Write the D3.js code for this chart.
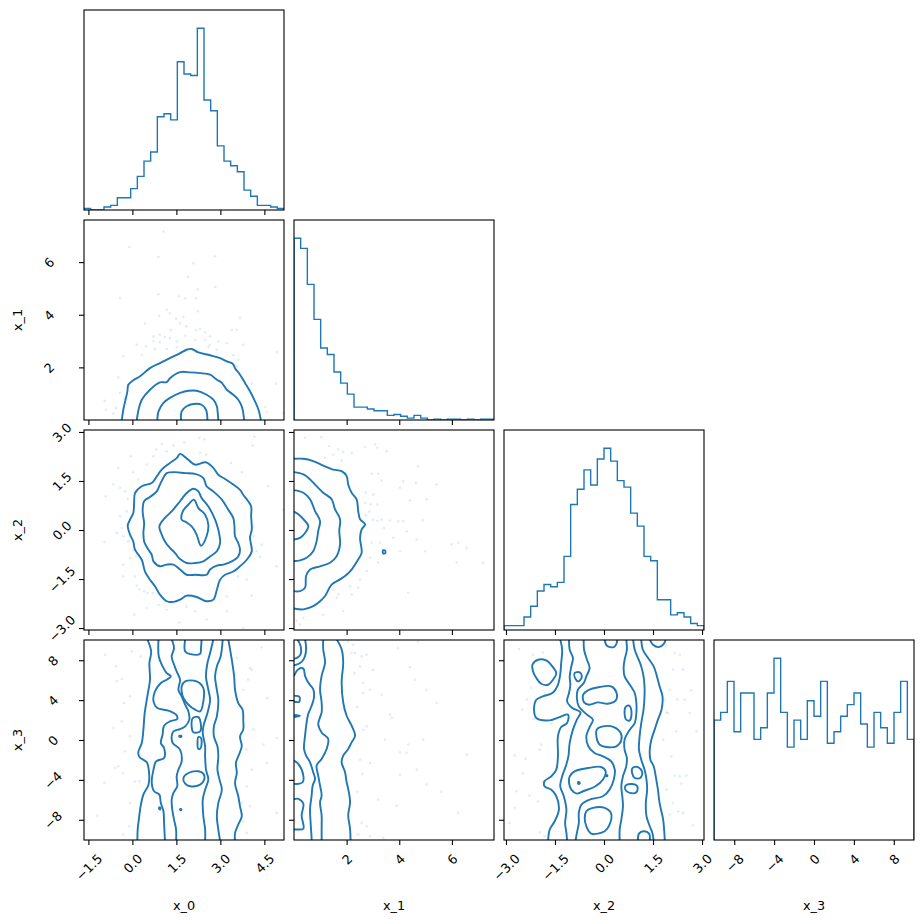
<!DOCTYPE html>
<html><head><meta charset="utf-8">
<script src="https://cdn.jsdelivr.net/npm/d3@7"></script>
<style>body{margin:0;background:#fff}svg{display:block}text{font-family:"DejaVu Sans",sans-serif}</style>
</head><body><svg id="c" width="924" height="924"></svg>
<script>
const names = ["x_0","x_1","x_2","x_3"];
const ranges = [[-1.65,5.17],[0,7.6],[-3.06,3.06],[-10.03,10.03]];
const tickVals = [[-1.5,0,1.5,3,4.5],[2,4,6],[-3,-1.5,0,1.5,3],[-8,-4,0,4,8]];
const tickLabels = [["−1.5","0.0","1.5","3.0","4.5"],["2","4","6"],["−3.0","−1.5","0.0","1.5","3.0"],["−8","−4","0","4","8"]];

const hist_x0 = [1,0,0,2,3,8,8,14,22,32,38,61,63,59,97,89,88,119,72,65,42,32,29,25,13,9,3,3,2,1];
const hist_x1 = [197,186,147,109,78,71,52,40,28,14,14,12,10,10,5,6,4,2,5,2,0,1,0,1,1,0,1,0,1,1];
const hist_x2 = [2,2,2,6,11,18,21,20,22,34,58,65,74,67,79,84,78,69,66,54,48,34,32,14,14,7,8,6,3,2];
const hist_x3 = [31,33,41,28,38,38,26,29,38,47,33,24,31,26,36,32,41,25,28,32,35,38,30,24,33,29,25,33,41,26];

// ---- x_0 vs x_1 ----
const lines_x0_x1 = [
 [[-0.36,0],[-0.31,0.39],[-0.17,1.09],[-0.14,1.34],[0.03,1.51],[0.26,1.66],[0.60,1.97],[0.94,2.16],[1.28,2.35],[1.63,2.54],[1.85,2.67],[2.02,2.70],[2.25,2.57],[2.65,2.46],[2.99,2.35],[3.22,2.23],[3.42,2.14],[3.50,1.97],[3.67,1.72],[3.84,1.41],[4.01,1.09],[4.18,0.71],[4.30,0.39],[4.38,0]],
 [[0.15,0],[0.21,0.39],[0.32,0.77],[0.60,1.15],[0.94,1.43],[1.17,1.44],[1.28,1.59],[1.63,1.82],[1.97,1.81],[2.31,1.78],[2.65,1.72],[2.88,1.53],[3.05,1.41],[3.22,1.15],[3.44,0.96],[3.61,0.77],[3.73,0.52],[3.78,0.27],[3.81,0]],
 [[0.85,0],[0.89,0.33],[1.06,0.65],[1.28,0.84],[1.63,1.03],[1.91,1.11],[2.19,1.11],[2.53,0.96],[2.76,0.77],[2.88,0.52],[2.91,0.27],[2.93,0]],
 [[1.66,0],[1.68,0.33],[1.85,0.52],[2.08,0.61],[2.36,0.58],[2.51,0.39],[2.56,0]]
];
const loops_x0_x1 = [];
const points_x0_x1 = [[1.06,7.16],[-0.10,6.57],[0.89,6.19],[2.82,6.22],[2.08,5.96],[1.90,5.43],[0.89,4.78],[2.23,4.97],[2.83,5.05],[-0.42,4.63],[1.59,4.70],[1.80,4.63],[2.17,4.62],[1.17,4.19],[1.28,4.06],[0.91,3.96],[1.74,3.91],[1.49,3.85],[2.23,4.13],[1.63,3.68],[1.85,3.56],[1.31,3.43],[0.43,3.66],[0.72,3.18],[0.94,3.24],[1.11,3.15],[0.94,2.95],[1.28,3.11],[1.51,2.99],[1.80,3.20],[2.17,3.41],[2.31,3.46],[2.48,3.33],[2.65,3.18],[2.14,3.05],[2.48,3.05],[2.63,2.86],[2.93,2.99],[3.22,2.92],[3.39,3.43],[3.56,3.43],[3.67,3.87],[3.78,2.86],[0.15,2.86],[0.32,2.47],[-0.31,2.42],[0.77,2.70],[1.17,2.70],[1.51,2.77],[2.59,2.77],[2.88,2.67],[3.44,2.46],[3.61,2.29],[3.56,2.04],[4.92,2.58],[4.90,1.38],[4.07,1.38],[-0.48,1.62],[-0.95,0.73],[-0.42,1.03],[-0.27,0.81],[-0.56,0.46],[-0.90,0.39],[-0.65,0.24],[4.58,0.30],[5.15,0.27],[4.52,0.49],[0.72,2.99],[0.47,2.80]];

// ---- x_0 vs x_2 ----
const lines_x0_x2 = [];
const loops_x0_x2 = [
 [[1.625,2.33],[1.80,2.23],[1.97,2.10],[2.14,2.00],[2.51,2.07],[2.76,1.90],[2.93,1.69],[3.16,1.56],[3.44,1.39],[3.67,1.23],[3.78,1.08],[3.95,0.88],[4.05,0.72],[4.05,0.42],[4.07,0.01],[4.01,-0.24],[4.07,-0.65],[3.90,-0.91],[3.67,-1.11],[3.44,-1.27],[3.16,-1.37],[2.99,-1.52],[2.88,-1.83],[2.76,-2.13],[2.53,-2.18],[2.19,-2.05],[1.85,-2.01],[1.625,-2.13],[1.40,-2.20],[1.17,-2.18],[0.94,-1.98],[0.77,-1.72],[0.60,-1.52],[0.43,-1.27],[0.32,-0.91],[0.09,-0.60],[0.03,-0.35],[-0.08,-0.14],[-0.16,0.13],[-0.08,0.32],[0.03,0.52],[0.06,0.83],[0.09,1.13],[0.32,1.34],[0.66,1.44],[0.83,1.64],[1.00,1.85],[1.28,2.05],[1.51,2.20]],
 [[1.17,1.74],[1.45,1.77],[1.80,1.74],[2.14,1.72],[2.42,1.59],[2.53,1.34],[2.76,1.18],[3.05,0.93],[3.27,0.62],[3.44,0.37],[3.48,0.11],[3.50,-0.19],[3.61,-0.40],[3.67,-0.60],[3.61,-0.81],[3.39,-0.96],[3.10,-1.06],[2.88,-1.09],[2.65,-1.21],[2.53,-1.37],[2.14,-1.37],[1.85,-1.37],[1.625,-1.21],[1.40,-1.06],[1.17,-1.06],[0.94,-1.11],[0.72,-0.96],[0.66,-0.76],[0.51,-0.55],[0.40,-0.35],[0.375,-0.09],[0.40,0.21],[0.35,0.57],[0.40,0.88],[0.60,1.01],[0.83,1.18],[0.94,1.39],[1.08,1.64]],
 [[2.08,1.26],[2.25,1.18],[2.36,0.98],[2.59,0.72],[2.82,0.32],[2.93,0.01],[2.99,-0.40],[2.88,-0.65],[2.65,-0.81],[2.42,-0.96],[2.14,-1.01],[1.85,-1.01],[1.625,-0.89],[1.45,-0.70],[1.28,-0.55],[1.11,-0.35],[1.00,-0.14],[0.92,0.11],[1.11,0.37],[1.34,0.57],[1.625,0.88],[1.85,1.13]],
 [[2.10,0.93],[2.25,0.67],[2.48,0.47],[2.59,0.16],[2.53,-0.19],[2.34,-0.48],[2.19,-0.14],[2.02,0.11],[1.85,0.23],[1.68,0.32],[1.72,0.57],[1.91,0.78]]
];
const points_x0_x2 = [[2.28,2.82],[2.45,2.77],[1.77,2.68],[4.16,2.85],[4.10,2.58],[1.00,2.63],[1.40,2.58],[0.81,2.46],[1.17,2.41],[2.31,2.36],[2.51,2.31],[3.36,2.05],[3.73,1.77],[-0.48,1.90],[0.03,1.77],[0.20,1.54],[-0.65,1.39],[-0.42,1.29],[-0.25,1.18],[-0.91,1.03],[-0.16,0.95],[-0.19,0.57],[-0.42,0.42],[-0.36,0.06],[-0.53,-0.09],[-0.31,-0.19],[-0.95,-0.37],[-0.14,-0.35],[0.03,-0.62],[0.13,-0.81],[-0.31,-1.06],[-0.08,-0.86],[-0.31,-1.42],[0.09,-1.42],[0.15,-1.70],[0.24,-1.81],[0.40,-1.88],[0.52,-1.93],[0.69,-1.93],[0.89,-2.29],[0.49,-2.39],[0.07,-2.59],[1.17,-2.44],[1.60,-2.83],[1.85,-2.34],[2.14,-2.49],[2.53,-2.74],[3.22,-2.49],[4.07,-2.01],[3.78,-3.0],[4.35,-0.83],[4.24,-0.65],[4.41,-0.45],[4.13,-0.19],[4.13,0.11],[4.92,-1.11],[4.64,1.34],[5.15,0.62],[3.61,-1.42],[3.56,-1.27],[3.22,-2.03],[3.90,-1.52],[0.72,2.26],[0.49,2.00],[-0.06,2.26]];

// ---- x_1 vs x_2 ----
const lines_x1_x2 = [
 [[0,2.18],[0.355,2.18],[0.73,2.11],[1.11,1.97],[1.49,1.85],[1.81,1.80],[2.00,1.65],[2.06,1.39],[2.19,1.14],[2.38,0.94],[2.44,0.58],[2.51,0.33],[2.70,0.17],[2.57,0.02],[2.51,-0.24],[2.57,-0.70],[2.44,-0.90],[2.19,-1.21],[1.94,-1.41],[1.75,-1.51],[1.43,-1.67],[1.18,-2.02],[0.99,-2.18],[0.73,-2.33],[0.355,-2.43],[0,-2.40]],
 [[0,1.77],[0.355,1.70],[0.61,1.55],[0.86,1.34],[1.11,1.14],[1.43,0.94],[1.56,0.63],[1.75,0.33],[1.72,-0.03],[1.75,-0.44],[1.62,-0.80],[1.37,-1.00],[0.99,-1.11],[0.61,-1.21],[0.46,-1.41],[0.42,-1.77],[0.23,-1.87],[0,-1.87]],
 [[0,1.22],[0.355,1.14],[0.61,0.94],[0.80,0.58],[0.99,0.27],[0.92,-0.03],[0.86,-0.34],[0.73,-0.65],[0.48,-0.85],[0.23,-0.93],[0,-0.95]],
 [[0,0.56],[0.165,0.48],[0.355,0.33],[0.545,0.12],[0.42,-0.09],[0.23,-0.24],[0,-0.29]]
];
const loops_x1_x2 = [[[3.38,-0.62],[3.46,-0.63],[3.47,-0.71],[3.39,-0.72]]];
const points_x1_x2 = [[0.42,2.82],[1.05,2.84],[1.34,2.57],[1.68,2.47],[1.87,2.39],[2.19,2.36],[2.70,2.54],[3.08,2.62],[3.17,2.52],[3.52,2.41],[1.18,2.21],[1.49,2.31],[1.81,2.13],[2.95,1.72],[3.20,1.72],[3.33,1.51],[4.03,1.29],[4.15,1.49],[4.63,1.44],[4.72,1.95],[2.73,1.14],[3.01,1.09],[2.70,0.83],[2.91,0.78],[3.17,0.78],[2.73,0.45],[2.86,0.56],[3.01,0.32],[3.17,0.27],[3.33,0.32],[3.65,0.29],[3.96,0.27],[4.15,0.27],[3.42,0.06],[3.77,-0.24],[4.28,-0.04],[4.66,-0.29],[2.95,-0.39],[3.27,-0.39],[4.03,-0.65],[2.89,-0.85],[3.20,-1.00],[2.76,-1.26],[2.51,-1.52],[2.13,-1.72],[1.68,-1.97],[1.62,-2.08],[1.49,-1.82],[2.19,-1.97],[2.44,-1.77],[4.34,-1.92],[1.87,-2.48],[1.11,-2.59],[0.355,-2.69],[0.10,-2.77],[0.23,-2.89],[5.42,1.39],[5.04,0.93],[5.99,-0.44],[6.24,-0.39],[6.56,-0.55],[6.18,-1.00],[7.19,-1.00],[4.98,-0.65],[4.40,0.90],[4.90,0.30]];

// ---- x_0 vs x_3 ----
const lines_x0_x3 = [
 [[0.51,10.1],[0.64,8.88],[0.58,7.72],[0.60,6.05],[0.51,4.38],[0.42,2.71],[0.375,1.04],[0.32,-0.30],[0.20,-1.24],[0.24,-1.70],[0.49,-2.24],[0.57,-3.31],[0.55,-4.48],[0.375,-5.48],[0.28,-6.65],[0.22,-7.98],[0.18,-8.98],[0.17,-10.1]],
 [[0.89,10.1],[0.90,8.38],[1.03,7.38],[1.17,6.71],[1.31,6.38],[1.17,6.05],[0.97,5.71],[0.77,4.88],[0.72,3.87],[0.85,3.21],[1.23,2.94],[1.49,2.54],[1.53,2.10],[1.28,1.87],[1.08,1.44],[1.03,0.53],[0.97,-0.30],[1.08,-0.80],[1.08,-1.80],[0.81,-2.14],[0.72,-2.97],[0.66,-4.31],[0.74,-5.14],[0.92,-5.48],[0.97,-6.31],[1.06,-7.15],[1.08,-8.32],[1.11,-10.1]],
 [[1.34,10.1],[1.42,9.22],[1.34,8.38],[1.40,7.72],[1.51,6.88],[1.625,6.05],[1.57,5.04],[1.68,4.38],[1.80,3.54],[1.91,2.87],[1.94,2.04],[1.80,1.37],[1.625,1.10],[1.40,0.87],[1.34,0.37],[1.375,-0.30],[1.625,-0.97],[1.68,-2.14],[1.57,-2.97],[1.51,-3.64],[1.53,-4.64],[1.40,-5.31],[1.34,-5.98],[1.36,-6.98],[1.42,-7.98],[1.49,-8.98],[1.49,-10.1]],
 [[2.76,10.1],[2.65,8.72],[2.56,7.72],[2.51,6.38],[2.59,5.04],[2.65,4.04],[2.56,2.71],[2.42,1.37],[2.40,0.70],[2.48,-0.63],[2.48,-1.64],[2.51,-2.97],[2.59,-3.97],[2.48,-4.98],[2.40,-5.98],[2.42,-7.65],[2.48,-8.98],[2.48,-10.1]],
 [[3.08,10.1],[3.01,8.38],[2.88,7.38],[2.82,6.38],[2.88,5.04],[2.93,4.04],[2.88,2.37],[2.78,1.37],[2.78,0.37],[2.90,-0.63],[2.93,-1.64],[2.90,-2.97],[2.97,-3.97],[3.05,-4.98],[2.93,-6.31],[2.88,-7.65],[2.93,-8.98],[2.99,-10.1]],
 [[3.27,10.1],[3.39,8.05],[3.47,6.38],[3.50,5.04],[3.61,3.71],[3.76,3.04],[3.78,2.04],[3.78,1.04],[3.67,0.37],[3.73,-0.63],[3.61,-1.64],[3.53,-2.30],[3.56,-3.31],[3.50,-4.31],[3.61,-5.64],[3.67,-6.65],[3.73,-7.65],[3.61,-8.48],[3.50,-9.32],[3.50,-10.1]],
 [[1.80,10.1],[1.80,8.88],[1.97,8.62],[2.31,8.65],[2.34,9.22],[2.36,10.1]]
];
const loops_x0_x3 = [
 [[1.68,5.38],[1.80,5.88],[2.19,5.88],[2.42,5.21],[2.42,3.87],[2.31,2.87],[2.14,3.04],[1.91,3.54],[1.74,4.21],[1.68,4.88]],
 [[2.06,2.20],[2.25,2.30],[2.33,1.70],[2.31,0.87],[2.08,0.77],[2.02,1.37]],
 [[1.60,0.42],[1.67,0.40],[1.67,0.32],[1.60,0.33]],
 [[2.25,0.30],[2.34,0.20],[2.33,-0.80],[2.25,-0.90],[2.22,-0.30]],
 [[1.74,-3.81],[1.91,-3.31],[2.25,-3.14],[2.42,-3.37],[2.45,-3.97],[2.31,-4.48],[1.97,-4.64],[1.80,-4.38]],
 [[0.92,-6.75],[0.96,-6.80],[0.94,-6.98],[0.91,-6.90]],
 [[1.63,-6.92],[1.67,-6.94],[1.66,-7.05],[1.63,-7.02]]
];
const points_x0_x3 = [[-0.93,8.55],[-0.36,6.11],[-0.53,5.88],[-0.02,8.88],[0.28,8.38],[-0.08,4.38],[-0.28,3.71],[-0.65,1.20],[-0.36,1.87],[-0.08,0.37],[-0.25,-1.14],[-0.48,-2.64],[-0.31,-3.31],[-0.95,-4.31],[0.09,-4.14],[0.24,-4.14],[-0.08,-6.31],[-0.10,-8.65],[-0.31,-9.49],[-0.59,-2.81],[3.56,8.22],[4.07,7.05],[4.01,7.21],[3.95,6.05],[3.78,5.04],[4.13,1.04],[4.92,0.20],[4.47,-0.47],[3.90,-0.97],[4.07,-2.97],[4.58,-2.30],[3.90,-4.64],[3.73,-6.31],[4.01,-6.65],[4.92,-7.31],[3.78,-8.15],[3.90,-9.32],[-0.55,7.40],[-1.20,-7.60],[4.40,9.30],[4.60,4.20]];

// ---- x_1 vs x_3 ----
const lines_x1_x3 = [
 [[0.42,10.1],[0.46,9.26],[0.42,8.43],[0.29,7.83],[0.10,7.56],[0,7.50]],
 [[0.13,10.1],[0.25,9.43],[0.25,8.60],[0.13,8.26],[0,8.16]],
 [[0,6.43],[0.165,7.10],[0.355,7.16],[0.42,6.43],[0.54,5.76],[0.73,5.10],[0.76,4.26],[0.67,3.43],[0.54,2.60],[0.48,1.76],[0.42,0.43],[0.38,-0.90],[0.46,-1.57],[0.61,-2.24],[0.73,-3.24],[0.80,-3.90],[0.71,-4.57],[0.67,-5.57],[0.61,-6.90],[0.63,-8.24],[0.67,-9.90],[0.67,-10.1]],
 [[0,4.45],[0.038,4.43],[0.20,4.36],[0.20,3.83],[0.038,3.83],[0,3.83]],
 [[0,2.52],[0.23,2.43],[0,2.30]],
 [[0,-2.07],[0.165,-2.40],[0.355,-3.57],[0.33,-4.24],[0.165,-4.40],[0,-4.40]],
 [[0,-5.95],[0.165,-5.90],[0.355,-6.40],[0.29,-7.57],[0.355,-8.90],[0.10,-8.97],[0,-8.97]],
 [[1.11,10.1],[1.11,9.10],[1.18,7.76],[1.05,6.43],[0.99,5.10],[1.05,3.76],[1.05,2.76],[0.92,1.60],[1.05,0.76],[1.30,0.10],[1.24,-0.90],[1.05,-1.90],[0.86,-2.57],[0.92,-3.57],[0.99,-4.57],[1.05,-5.57],[0.99,-6.24],[1.05,-7.57],[1.05,-8.90],[1.05,-10.1]],
 [[1.62,10.1],[1.81,9.10],[1.87,7.76],[1.81,5.76],[1.87,3.76],[2.00,2.43],[2.19,1.43],[2.32,0.43],[2.19,-0.24],[2.06,-0.90],[1.87,-1.57],[1.81,-2.24],[1.94,-3.24],[2.00,-4.24],[2.06,-4.90],[2.13,-6.24],[2.06,-7.57],[2.13,-8.90],[2.15,-10.1]]
];
const loops_x1_x3 = [];
const points_x1_x3 = [[2.06,9.88],[2.25,9.55],[4.72,9.88],[2.19,8.72],[2.32,8.72],[2.57,8.38],[2.76,8.55],[2.51,7.38],[3.96,9.22],[5.04,5.04],[4.60,6.04],[2.63,5.71],[2.89,5.04],[2.63,4.71],[3.33,4.54],[5.42,3.71],[3.65,2.54],[3.71,2.20],[2.25,1.20],[2.76,1.36],[2.63,1.03],[3.46,0.03],[4.91,0.03],[4.34,-0.47],[4.03,-1.24],[4.28,-1.30],[6.56,-1.47],[2.51,-1.97],[2.89,-2.30],[4.66,-2.98],[4.03,-3.48],[5.04,-4.48],[3.20,-5.98],[6.24,-7.31],[2.57,-8.32],[2.76,-8.66],[2.89,-9.66],[3.39,-9.82],[2.44,-9.49],[2.30,6.70],[3.00,7.00],[2.40,-5.20],[2.60,-3.40],[2.40,3.30],[3.90,-6.60],[5.60,-5.20],[4.40,7.30]];

// ---- x_2 vs x_3 ----
const lines_x2_x3 = [
 [[-1.34,10.1],[-1.28,9.05],[-1.31,7.72],[-1.34,6.55],[-1.41,5.54],[-1.58,4.71],[-1.87,4.38],[-2.07,4.04],[-2.14,3.04],[-2.07,2.20],[-1.66,1.97],[-1.36,2.30],[-1.10,2.54],[-1.13,1.70],[-1.31,1.30],[-1.41,0.37],[-1.41,-1.64],[-1.46,-2.97],[-1.61,-3.64],[-1.82,-4.14],[-1.82,-4.64],[-1.61,-4.98],[-1.46,-5.64],[-1.38,-6.98],[-1.51,-8.15],[-1.66,-8.98],[-1.71,-10.1]],
 [[-1.07,10.1],[-1.05,9.05],[-0.95,8.22],[-1.00,7.38],[-1.05,6.38],[-1.03,5.54],[-1.07,4.71],[-1.13,3.87],[-0.97,3.21],[-0.72,2.77],[-0.83,2.04],[-0.95,1.04],[-1.05,-0.30],[-1.09,-1.64],[-1.17,-2.64],[-1.28,-3.64],[-1.34,-4.64],[-1.23,-5.64],[-1.15,-6.98],[-1.19,-8.32],[-1.15,-9.32],[-1.13,-10.1]],
 [[-0.62,10.1],[-0.61,9.05],[-0.52,8.05],[-0.44,7.21],[-0.54,6.38],[-0.62,5.71],[-0.80,5.04],[-0.83,4.21],[-0.77,3.37],[-0.52,2.54],[-0.34,2.04],[-0.44,1.30],[-0.54,0.37],[-0.48,-0.63],[-0.29,-1.30],[-0.03,-1.64],[0.22,-2.14],[0.33,-2.97],[0.30,-3.97],[0.17,-4.98],[-0.03,-5.64],[-0.44,-5.98],[-0.69,-6.48],[-0.77,-7.31],[-0.77,-8.32],[-0.83,-9.32],[-0.87,-10.1]],
 [[0.02,10.1],[0.09,9.45],[0.30,9.32],[0.38,9.65],[0.41,10.1]],
 [[0.68,10.1],[0.70,9.05],[0.63,8.05],[0.60,7.21],[0.63,6.38],[0.79,5.54],[0.94,4.71],[0.99,3.71],[0.99,2.71],[0.94,1.70],[0.79,1.04],[0.63,0.03],[0.63,-0.97],[0.70,-1.80],[0.68,-2.64],[0.58,-3.64],[0.53,-4.64],[0.56,-5.64],[0.58,-6.65],[0.53,-7.98],[0.48,-8.98],[0.48,-10.1]],
 [[0.89,10.1],[0.94,9.05],[1.04,8.22],[1.14,7.38],[1.21,6.38],[1.24,5.38],[1.24,4.38],[1.21,3.04],[1.14,1.70],[1.09,0.37],[1.07,-0.97],[1.14,-1.97],[1.24,-2.97],[1.30,-3.97],[1.32,-4.98],[1.28,-6.31],[1.30,-7.65],[1.40,-8.65],[1.48,-9.32],[1.52,-10.1]],
 [[1.14,10.1],[1.19,9.05],[1.35,8.22],[1.52,7.38],[1.62,6.38],[1.70,5.38],[1.79,4.38],[1.76,3.04],[1.65,2.04],[1.55,1.04],[1.45,0.03],[1.40,-0.97],[1.42,-1.97],[1.52,-2.64],[1.60,-3.97],[1.65,-4.98],[1.70,-6.31],[1.81,-7.98],[1.84,-8.98],[1.86,-10.1]],
 [[1.40,10.1],[1.50,9.55],[1.68,9.32],[1.83,9.65],[1.89,10.1]],
 [[1.04,-10.1],[1.07,-9.39],[1.21,-9.15],[1.38,-9.39],[1.40,-10.1]]
];
const loops_x2_x3 = [
 [[-2.19,7.55],[-2.02,8.05],[-1.77,7.98],[-1.58,7.38],[-1.46,6.71],[-1.56,6.05],[-1.71,5.54],[-1.92,5.64],[-2.07,6.21],[-2.17,6.88]],
 [[-0.90,6.71],[-0.74,6.78],[-0.68,6.31],[-0.79,5.88],[-0.87,6.11]],
 [[-0.64,4.54],[-0.49,4.98],[-0.13,5.31],[0.22,5.38],[0.38,4.78],[0.36,3.97],[0.12,3.64],[-0.18,3.77],[-0.46,3.54],[-0.61,3.77]],
 [[0.66,3.31],[0.77,3.44],[0.84,2.87],[0.79,1.97],[0.68,2.04],[0.63,2.71]],
 [[-0.21,1.10],[-0.03,1.37],[0.30,1.30],[0.50,0.77],[0.53,-0.03],[0.38,-0.63],[0.07,-0.70],[-0.13,-0.47],[-0.23,0.30]],
 [[-1.05,-3.64],[-0.90,-3.14],[-0.49,-2.81],[-0.08,-2.71],[0.05,-3.14],[-0.03,-3.97],[-0.26,-4.64],[-0.64,-5.14],[-0.83,-5.38],[-1.00,-4.98],[-1.07,-4.31]],
 [[-0.79,-4.22],[-0.75,-4.25],[-0.75,-4.40],[-0.79,-4.38]],
 [[0.06,-3.50],[0.10,-3.52],[0.10,-3.64],[0.06,-3.62]],
 [[0.87,-2.81],[1.04,-2.71],[1.17,-3.24],[1.11,-3.81],[0.94,-3.81],[0.86,-3.31]],
 [[0.66,-4.58],[0.84,-4.41],[1.02,-4.64],[0.99,-5.24],[0.79,-5.31],[0.65,-4.98]],
 [[-0.54,-7.15],[-0.34,-6.81],[0.02,-6.81],[0.22,-7.38],[0.17,-8.48],[0.02,-9.15],[-0.39,-9.39],[-0.54,-8.65],[-0.59,-7.82]]
];
const points_x2_x3 = [[-2.60,9.12],[-2.17,8.55],[-1.87,8.78],[-2.22,5.21],[-2.36,4.04],[-2.50,3.04],[-2.15,2.10],[-1.61,1.64],[-1.92,-0.47],[-1.97,-0.97],[-2.73,-1.57],[-2.40,-1.87],[-2.48,-3.37],[-1.87,-4.14],[-2.28,-5.58],[-2.68,-5.14],[-2.02,-6.15],[-2.73,-6.81],[-2.89,-8.32],[-1.97,-9.25],[-1.82,-9.65],[1.91,9.45],[2.16,8.72],[2.32,8.55],[2.11,7.05],[2.42,7.05],[2.01,5.04],[1.85,4.04],[2.24,4.04],[2.47,4.04],[2.67,4.98],[1.91,2.77],[1.96,2.71],[2.62,2.71],[2.21,0.87],[2.83,0.87],[1.81,0.03],[2.06,-1.64],[2.16,-3.57],[2.32,-3.64],[2.52,-3.57],[2.37,-4.38],[1.91,-4.98],[2.11,-6.31],[2.01,-7.48],[2.27,-7.15],[2.42,-7.31],[2.72,-8.58],[1.81,-8.98]];

// ------------- drawing -------------
const panelData = {
  "1-0": {lines: lines_x0_x1, loops: loops_x0_x1, points: points_x0_x1},
  "2-0": {lines: lines_x0_x2, loops: loops_x0_x2, points: points_x0_x2},
  "2-1": {lines: lines_x1_x2, loops: loops_x1_x2, points: points_x1_x2},
  "3-0": {lines: lines_x0_x3, loops: loops_x0_x3, points: points_x0_x3},
  "3-1": {lines: lines_x1_x3, loops: loops_x1_x3, points: points_x1_x3},
  "3-2": {lines: lines_x2_x3, loops: loops_x2_x3, points: points_x2_x3}
};
const hists = [hist_x0, hist_x1, hist_x2, hist_x3];

const svg = d3.select("#c");
const P = 200, GAP = 10, L0 = 84, T0 = 10, K = 4;
const BLUE = "#1f77b4";
const FS = 12.8;
const TICK = 5;
// horizontal distance from the panel's left edge to the centre of rotated y tick labels, per row
const Y_LABEL_OFFSET = [0, 35, 22, 31];

const defs = svg.append("defs");
defs.append("clipPath").attr("id","pclip").append("rect").attr("x",0).attr("y",0).attr("width",P).attr("height",P);

function scaleFor(i, horizontal){
  return d3.scaleLinear().domain(ranges[i]).range(horizontal ? [0,P] : [P,0]);
}

function styleXLabels(sel){
  sel.selectAll("text").each(function(){
    const w = this.getComputedTextLength() - 0.1*FS;
    const h = 0.73*FS;
    const ext = (w + h)/Math.SQRT2;
    d3.select(this).attr("x",0).attr("y",0).attr("dy","0.36em").attr("text-anchor","middle")
      .attr("fill","#000")
      .attr("transform",`translate(0,${13.5 + ext/2}) rotate(-45)`);
  });
}
function styleYLabels(sel, row){
  sel.selectAll("text").each(function(){
    d3.select(this).attr("x",0).attr("y",0).attr("dy","0.36em").attr("text-anchor","middle")
      .attr("fill","#000")
      .attr("transform",`translate(${-Y_LABEL_OFFSET[row]},0) rotate(-45)`);
  });
}

for (let r = 0; r < K; r++) {
  for (let c = 0; c <= r; c++) {
    const g = svg.append("g").attr("transform",`translate(${L0 + c*(P+GAP)},${T0 + r*(P+GAP)})`);
    const xs = scaleFor(c, true);
    const content = g.append("g").attr("clip-path","url(#pclip)");
    if (r === c) {
      const counts = hists[c];
      const n = counts.length;
      const ys = d3.scaleLinear().domain([0, 1.1*d3.max(counts)]).range([P,0]);
      const lo = ranges[c][0], hi = ranges[c][1];
      const edges = d3.range(n+1).map(k => lo + (hi-lo)*k/n);
      const pts = [[edges[0],0]];
      counts.forEach((v,k) => { pts.push([edges[k],v]); pts.push([edges[k+1],v]); });
      pts.push([edges[n],0]);
      content.append("path")
        .attr("d", d3.line().x(d => xs(d[0])).y(d => ys(d[1]))(pts))
        .attr("fill","none").attr("stroke",BLUE).attr("stroke-width",1.4).attr("stroke-linejoin","miter");
    } else {
      const ys = scaleFor(r, false);
      const pd = panelData[`${r}-${c}`];
      content.append("g").selectAll("circle").data(pd.points).join("circle")
        .attr("cx", d => xs(d[0])).attr("cy", d => ys(d[1])).attr("r",1.35)
        .attr("fill",BLUE).attr("fill-opacity",0.13);
      const lineGen = d3.line().x(d => xs(d[0])).y(d => ys(d[1])).curve(d3.curveCatmullRom.alpha(0.5));
      const loopGen = d3.line().x(d => xs(d[0])).y(d => ys(d[1])).curve(d3.curveCatmullRomClosed.alpha(0.5));
      content.append("g").selectAll("path").data(pd.lines).join("path")
        .attr("d", lineGen).attr("fill","none").attr("stroke",BLUE).attr("stroke-width",1.9).attr("stroke-linejoin","round");
      content.append("g").selectAll("path").data(pd.loops).join("path")
        .attr("d", loopGen).attr("fill","none").attr("stroke",BLUE).attr("stroke-width",1.9).attr("stroke-linejoin","round");
      // y ticks
      const yax = d3.axisLeft(ys).tickValues(tickVals[r]).tickSize(TICK).tickPadding(0)
        .tickFormat((d,k) => c === 0 ? tickLabels[r][k] : "");
      const ya = g.append("g").call(yax);
      ya.attr("font-size",FS).attr("font-family","DejaVu Sans");
      ya.select(".domain").remove();
      ya.selectAll("line").attr("stroke","#000").attr("stroke-width",1.1);
      if (c === 0) styleYLabels(ya, r); else ya.selectAll("text").remove();
    }
    // x ticks
    const xax = d3.axisBottom(xs).tickValues(tickVals[c]).tickSize(TICK).tickPadding(0)
      .tickFormat((d,k) => r === K-1 ? tickLabels[c][k] : "");
    const xa = g.append("g").attr("transform",`translate(0,${P})`).call(xax);
    xa.attr("font-size",FS).attr("font-family","DejaVu Sans");
    xa.select(".domain").remove();
    xa.selectAll("line").attr("stroke","#000").attr("stroke-width",1.1);
    if (r === K-1) styleXLabels(xa); else xa.selectAll("text").remove();
    // frame
    g.append("rect").attr("x",0).attr("y",0).attr("width",P).attr("height",P)
      .attr("fill","none").attr("stroke","#000").attr("stroke-width",1.1);
  }
}
// axis labels
names.forEach((nm,i) => {
  svg.append("text").attr("x", L0 + i*(P+GAP) + P/2).attr("y", 910)
    .attr("text-anchor","middle").attr("font-size",FS).attr("fill","#000").text(nm);
  if (i > 0) {
    const cy = T0 + i*(P+GAP) + P/2;
    svg.append("text").attr("transform",`translate(22,${cy}) rotate(-90)`)
      .attr("text-anchor","middle").attr("font-size",FS).attr("fill","#000").text(nm);
  }
});
</script></body></html>
